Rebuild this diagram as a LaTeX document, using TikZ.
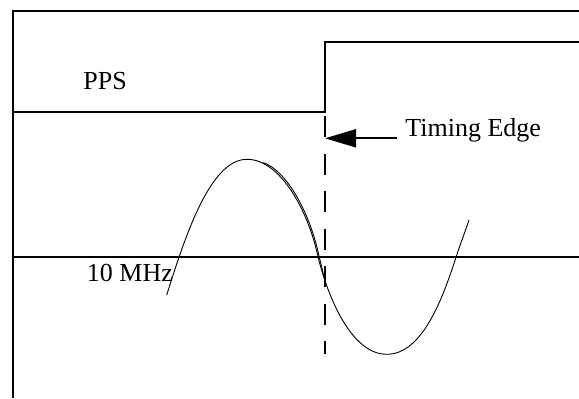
\documentclass[tikz,border=0pt]{standalone}
\usepackage{fontspec}
\setmainfont{Liberation Serif}
\usetikzlibrary{arrows.meta}
\tikzset{
  frameline/.style={line width=1pt},
  ppsline/.style={line width=1pt},
  axisline/.style={line width=1.4pt},
  edgedash/.style={line width=1.2pt, dash pattern=on 10.5pt off 8.25pt},
  waveline/.style={line width=0.45pt, black},
  arrowline/.style={line width=1pt, -{Triangle[length=15.5pt,width=9pt]}},
  lbl/.style={inner sep=0pt, anchor=base west, font=\fontsize{13}{15}\selectfont},
}
\begin{document}
\begin{tikzpicture}[x=0.5pt,y=-0.5pt]
\useasboundingbox (0,0) rectangle (579,398);
% frame
\coordinate (ftl) at (12.7,10.5);
\coordinate (ftr) at (579,10.5);
\coordinate (fbl) at (12.7,398);
\draw[frameline] (ftr) -- (ftl) -- (fbl);
% PPS signal
\coordinate (plo) at (12.7,111.5);
\coordinate (pedgelo) at (325,111.5);
\coordinate (pedgehi) at (325,42);
\coordinate (phi) at (579,42);
\draw[ppsline] (plo) -- (pedgelo) -- (pedgehi) -- (phi);
% axis of 10 MHz
\coordinate (axl) at (12.7,257);
\coordinate (axr) at (579,257);
\draw[axisline] (axl) -- (axr);
% timing edge dashed line
\coordinate (dtop) at (325,116);
\coordinate (dbot) at (325,354);
\draw[edgedash] (dtop) -- (dbot);
% labels
\node[lbl] (pps) at (83,89) {PPS};
\node[lbl] (te) at (405,136.7) {Timing Edge};
\node[lbl] (mhz) at (86.5,281.7) {10 MHz};
% arrow
\coordinate (tail) at (397,138.3);
\coordinate (tip) at (325,138.3);
\draw[arrowline] (tail) -- (tip);
% sine wave
\coordinate (ws) at (166.7,295);
\coordinate (wp) at (247,159.3);
\coordinate (wx) at (318,256.7);
\coordinate (wt) at (386.7,354.3);
\coordinate (wy) at (456,257.3);
\coordinate (we) at (469,220);
\draw[waveline] (ws) .. controls (185,237) and (210,159.3) .. (wp)
  .. controls (280,159.3) and (308,210) .. (wx)
  .. controls (328,297.7) and (351.7,354.3) .. (wt)
  .. controls (421.7,354.3) and (442,300.7) .. (wy)
  .. controls (460.3,244) and (465,232) .. (we);
\begin{scope}[shift={(1.3,0.6)}]
\coordinate (wp2) at (262,162);
\coordinate (wx2) at (318,256.7);
\coordinate (wz2) at (324.5,284);
\draw[waveline] (wp2) .. controls (285,170) and (308.5,211) .. (wx2)
  .. controls (320.5,266.5) and (322.5,276) .. (wz2);
\end{scope}
\end{tikzpicture}
\end{document}
